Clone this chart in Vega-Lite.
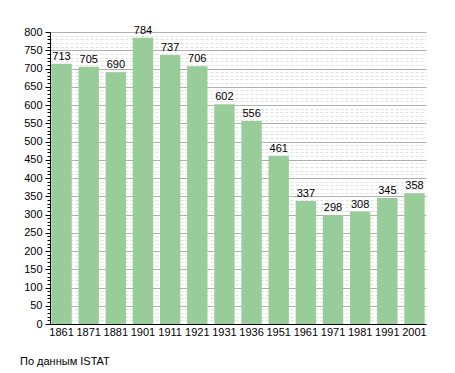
{
  "$schema": "https://vega.github.io/schema/vega-lite/v6.json",
  "width": 376,
  "height": 292,
  "autosize": {"type": "none"},
  "padding": {"left": 50, "top": 32, "right": 29, "bottom": 49},
  "background": "white",
  "config": {"view": {"stroke": null}, "font": "Liberation Sans"},
  "title": {"text": "По данным  ISTAT", "orient": "bottom", "anchor": "start", "frame": "group", "dx": -30, "offset": 19, "fontSize": 11, "fontWeight": "normal", "color": "#000", "font": "Liberation Sans"},
  "data": {"values": [
    {"year": "1861", "pop": 713},
    {"year": "1871", "pop": 705},
    {"year": "1881", "pop": 690},
    {"year": "1901", "pop": 784},
    {"year": "1911", "pop": 737},
    {"year": "1921", "pop": 706},
    {"year": "1931", "pop": 602},
    {"year": "1936", "pop": 556},
    {"year": "1951", "pop": 461},
    {"year": "1961", "pop": 337},
    {"year": "1971", "pop": 298},
    {"year": "1981", "pop": 308},
    {"year": "1991", "pop": 345},
    {"year": "2001", "pop": 358}
  ]},
  "encoding": {
    "x": {"field": "year", "type": "ordinal", "sort": null,
      "scale": {"paddingInner": 0.25, "paddingOuter": 0.05},
      "axis": {"title": null, "labelAngle": 0, "ticks": false, "labelPadding": 2, "labelFontSize": 11, "labelColor": "#000", "domainColor": "#000", "grid": false}},
    "y": {"field": "pop", "type": "quantitative",
      "scale": {"domain": [0, 800], "nice": false},
      "axis": {"title": null,
        "values": [0,10,20,30,40,50,60,70,80,90,100,110,120,130,140,150,160,170,180,190,200,210,220,230,240,250,260,270,280,290,300,310,320,330,340,350,360,370,380,390,400,410,420,430,440,450,460,470,480,490,500,510,520,530,540,550,560,570,580,590,600,610,620,630,640,650,660,670,680,690,700,710,720,730,740,750,760,770,780,790,800],
        "labelExpr": "datum.value % 50 === 0 ? datum.label : ''",
        "labelFontSize": 11, "labelColor": "#000", "labelPadding": 3,
        "domainColor": "#000",
        "tickColor": "#000",
        "tickSize": {"condition": {"test": "datum.value % 50 === 0", "value": 5}, "value": 3},
        "grid": true,
        "gridColor": {"condition": {"test": "datum.value % 50 === 0", "value": "#b0b0b0"}, "value": "#e0e0e0"},
        "gridDash": {"condition": {"test": "datum.value % 50 === 0", "value": []}, "value": [3, 2]}
      }}
  },
  "layer": [
    {"mark": {"type": "bar", "color": "#98cc98"}},
    {"mark": {"type": "text", "baseline": "bottom", "dy": -2, "fontSize": 11, "color": "#000"},
     "encoding": {"text": {"field": "pop", "type": "quantitative"}}}
  ]
}
